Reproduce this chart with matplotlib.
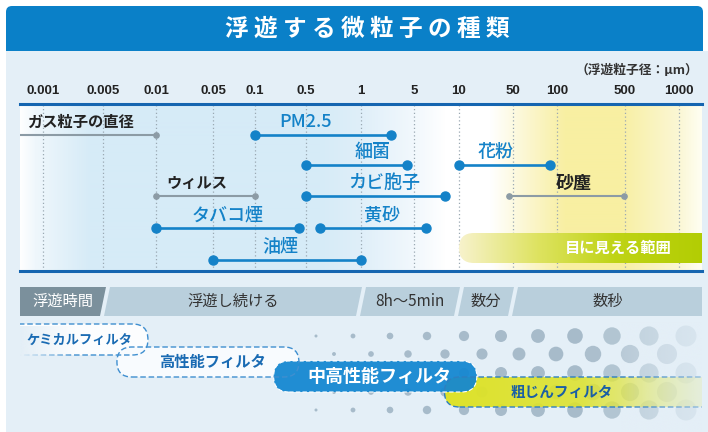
import numpy as np
import matplotlib
matplotlib.use('Agg')
import matplotlib.pyplot as plt
from matplotlib.patches import FancyBboxPatch, Polygon, Circle, Rectangle
from matplotlib.transforms import IdentityTransform, blended_transform_factory
from matplotlib.colors import to_rgb

plt.rcParams['font.family'] = ['Noto Sans CJK JP', 'DejaVu Sans']

# ---- data ----
# particle diameter axis (um)
tick_values = [0.001, 0.005, 0.01, 0.05, 0.1, 0.5, 1, 5, 10, 50, 100, 500, 1000]
tick_labels = ['0.001', '0.005', '0.01', '0.05', '0.1', '0.5', '1', '5', '10', '50', '100', '500', '1000']

# size range of each particle type
particles = ['ガス粒子の直径', 'PM2.5', '細菌', '花粉', 'ウィルス', 'カビ胞子', '砂塵', 'タバコ煙', '黄砂', '油煙']
size_min = [0.0003, 0.1, 0.5, 10, 0.01, 0.5, 45, 0.01, 0.6, 0.05]
size_max = [0.01, 2.5, 4, 90, 0.1, 8, 490, 0.4, 6, 1]
row = [0, 0, 1, 1, 2, 2, 2, 3, 3, 4]
group = ['gray', 'blue', 'blue', 'blue', 'gray', 'blue', 'gray', 'blue', 'blue', 'blue']

visible_label = '目に見える範囲'
visible_min = 10

# floating time by particle size
time_header = '浮遊時間'
time_labels = ['浮遊し続ける', '8h〜5min', '数分', '数秒']
time_bounds = [1, 10, 50]

# filters and the particle sizes they catch
filters = ['ケミカルフィルタ', '高性能フィルタ', '中高性能フィルタ', '粗じんフィルタ']
filter_min = [0.0001, 0.006, 0.18, 8]
filter_max = [0.009, 0.4, 17, 10000]

# ---- layout / style ----
W, H = 708, 432
# the printed axis is a hand-spaced log axis: pixel spot of each tick
TICK_PX = [43, 103, 156, 213, 255, 306, 361, 414, 459, 513, 557, 625, 679]
ROW_Y = [135, 165, 196, 228, 260]
VISIBLE_Y = 248
FILTER_Y = [339.5, 362, 376.5, 392]
FILTER_H = [31, 30, 31, 30]
PANEL = '#E4EFF7'
BLUE = '#1482C8'
GRAY = '#8C9BA5'
DARK = '#222222'

LT = np.log10(tick_values)
TP = np.array(TICK_PX, dtype=float)
SL_L = (TP[2] - TP[0]) / (LT[2] - LT[0])
SL_R = (TP[-1] - TP[-3]) / (LT[-1] - LT[-3])


def fwd(x):
    lx = np.log10(np.clip(np.asarray(x, dtype=float), 1e-12, None))
    out = np.interp(lx, LT, TP)
    out = np.where(lx < LT[0], TP[0] + (lx - LT[0]) * SL_L, out)
    out = np.where(lx > LT[-1], TP[-1] + (lx - LT[-1]) * SL_R, out)
    return out


def inv(p):
    p = np.asarray(p, dtype=float)
    lx = np.interp(p, TP, LT)
    lx = np.where(p < TP[0], LT[0] + (p - TP[0]) / SL_L, lx)
    lx = np.where(p > TP[-1], LT[-1] + (p - TP[-1]) / SL_R, lx)
    return 10 ** lx


XMIN, XMAX = float(inv(20)), float(inv(702))

fig = plt.figure(figsize=(W / 100, H / 100), dpi=100)

# background axes in pixel units (top-down)
bg = fig.add_axes([0, 0, 1, 1])
bg.set_xlim(0, W)
bg.set_ylim(H, 0)
bg.axis('off')

bg.add_patch(FancyBboxPatch((6, 6), 697, 60, boxstyle='round,pad=0,rounding_size=6',
                            fc='#0A80C8', ec='none', zorder=1))
bg.add_patch(Rectangle((6, 51), W - 6, H - 51, fc=PANEL, ec='none', zorder=2))
bg.text(367, 29, '浮 遊 す る 微 粒 子 の 種 類', color='white', fontsize=17,
        fontweight='bold', ha='center', va='center', zorder=3)
bg.text(698, 70, '（浮遊粒子径：μm）', color='#333333', fontsize=9.2,
        fontweight='bold', ha='right', va='center', zorder=3)

# chart area gradient
sx = [20, 35, 90, 320, 360, 420, 445, 490, 530, 565, 620, 680, 702]
sc = ['#FFFFFF', '#EFF7FC', '#D6EBF7', '#D6EBF7', '#DFEFF9', '#F4F9FD', '#FFFFFF',
      '#FFFFFF', '#FBF6CC', '#F8EFA2', '#F8EFA2', '#FBF7D6', '#FFFFF4']
sc = np.array([to_rgb(c) for c in sc])
xs = np.arange(20, 702)
grad = np.stack([np.interp(xs, sx, sc[:, k]) for k in range(3)], axis=-1)[None]
bg.imshow(grad, extent=(20, 702, 271, 104), aspect='auto', zorder=3, interpolation='bilinear')

# decorative particle dots
dot_rows = [336, 354, 373, 392, 410]
base = np.array(to_rgb('#A7BBCA'))
pan = np.array(to_rgb(PANEL))
for i, yy in enumerate(dot_rows):
    x0 = 316 if i % 2 == 0 else 334
    for xx in range(x0, 700, 37):
        r = 1.5 + 0.0243 * (xx - 316)
        t = min(max((xx - 580) / 130, 0), 1) * 0.75
        bg.add_patch(Circle((xx, yy), r, fc=base * (1 - t) + pan * t, ec='none', zorder=3))


def pill(axis, x0, x1, yc, h, **kw):
    (a, yy), (b, _) = axis.transData.transform([(x0, yc), (x1, yc)])
    p = FancyBboxPatch((a, yy - h / 2), b - a, h,
                       boxstyle=f'round,pad=0,rounding_size={h / 2}',
                       transform=IdentityTransform(), **kw)
    axis.add_patch(p)
    return p


def hgrad(axis, x0, x1, y0, y1, pos, cols, z, clip=None):
    t = np.linspace(0, 1, 256)
    cols = np.array(cols)
    arr = np.stack([np.interp(t, pos, cols[:, k]) for k in range(4)], axis=-1)[None]
    im = axis.imshow(arr, extent=(x0, x1, y0, y1), transform=IdentityTransform(),
                     aspect='auto', zorder=z, interpolation='bilinear')
    if clip is not None:
        im.set_clip_path(clip)
    im.set_clip_box(axis.bbox)
    return im


# ---- main chart ----
ax = fig.add_axes([20 / W, (H - 271) / H, 682 / W, 167 / H])
ax.set_xscale('function', functions=(fwd, inv))
ax.set_xlim(XMIN, XMAX)
ax.set_ylim(271, 104)
ax.patch.set_alpha(0)
for s in ['left', 'right']:
    ax.spines[s].set_visible(False)
for s in ['top', 'bottom']:
    ax.spines[s].set_color('#1565B0')
    ax.spines[s].set_linewidth(2.2)
ax.xaxis.tick_top()
ax.xaxis.set_minor_locator(matplotlib.ticker.NullLocator())
ax.set_xticks(tick_values, tick_labels, fontweight='bold', family='Liberation Sans',
              fontsize=9.5, color=DARK)
ax.tick_params(axis='x', length=0, pad=5)
ax.set_yticks([])
ax.grid(axis='x', color='#9AA8B2', ls=(0, (1, 2)), lw=0.9)
ax.set_axisbelow(True)

# visible range bar
vb = pill(ax, visible_min, XMAX * 5, VISIBLE_Y, 30, fc='none', ec='none', zorder=2)
p0 = ax.transData.transform((visible_min, VISIBLE_Y))
hgrad(ax, p0[0], 720, H - VISIBLE_Y - 15, H - VISIBLE_Y + 15,
      [0, 0.3, 0.6, 1],
      [(0.97, 0.95, 0.80, 1), (0.87, 0.89, 0.38, 1), (0.75, 0.83, 0.08, 1), (0.69, 0.80, 0.0, 1)],
      z=2, clip=vb)
ax.text(0.877, VISIBLE_Y, visible_label, transform=blended_transform_factory(ax.transAxes, ax.transData),
        color='white', fontsize=11, fontweight='bold', ha='center', va='center', zorder=4)

for name, mn, mx, r, g in zip(particles, size_min, size_max, row, group):
    y = ROW_Y[r]
    if g == 'blue':
        ax.plot([mn, mx], [y, y], color=BLUE, lw=1.9, marker='o', ms=6.5, zorder=3)
    else:
        ax.plot([mn, mx], [y, y], color=GRAY, lw=1.5, marker='o', ms=3.8, zorder=3)
    if r == 0 and g == 'gray':
        ax.text(0.01, y - 13, name, transform=blended_transform_factory(ax.transAxes, ax.transData),
                color=DARK, fontsize=11, fontweight='bold', ha='left', va='center', zorder=4)
    elif g == 'gray':
        ax.text(np.sqrt(mn * mx), y - 13, name, color=DARK, fontsize=11 if len(name) > 2 else 13,
                fontweight='bold', ha='center', va='center', zorder=4)
    else:
        ax.text(np.sqrt(mn * mx), y - 13, name, color=BLUE, fontsize=13,
                fontweight='medium', ha='center', va='center', zorder=4)

# ---- lower panel: floating time and filters ----
ax2 = fig.add_axes([20 / W, 0, 682 / W, 157 / H])
ax2.set_xscale('function', functions=(fwd, inv))
ax2.set_xlim(XMIN, XMAX)
ax2.set_ylim(H, 275)
ax2.axis('off')

left, right = 20, 702
edges = [left, left + 85] + [ax2.transData.transform((v, 300))[0] for v in time_bounds] + [right]
yt, yb = H - 287, H - 316
s, gap = 6, 4
for i in range(len(edges) - 1):
    a, b = edges[i], edges[i + 1]
    bl = a if i == 0 else a + gap / 2 - s / 2
    tl = a if i == 0 else a + gap / 2 + s / 2
    br = b if i == len(edges) - 2 else b - gap / 2 - s / 2
    tr = b if i == len(edges) - 2 else b - gap / 2 + s / 2
    fc = '#7B909C' if i == 0 else '#B9CFDC'
    ax2.add_patch(Polygon([(bl, yb), (br, yb), (tr, yt), (tl, yt)], closed=True,
                          transform=IdentityTransform(), fc=fc, ec='none', zorder=1))
    label = time_header if i == 0 else time_labels[i - 1]
    ax2.text((a + b) / 2, (yt + yb) / 2, label, transform=IdentityTransform(),
             color='white' if i == 0 else '#333333', fontsize=11,
             ha='center', va='center', zorder=2)

edge_blue = '#3F8FD0'
dash = (0, (4, 2))
# coarse filter (yellow, fading to the right)
cb = pill(ax2, filter_min[3], filter_max[3], FILTER_Y[3], FILTER_H[3], fc='none', ec='none', zorder=2)
c0 = ax2.transData.transform((filter_min[3], FILTER_Y[3]))
hgrad(ax2, c0[0], 720, c0[1] - 15, c0[1] + 15, [0, 0.5, 1],
      [(0.87, 0.89, 0.16, 1.0), (0.87, 0.89, 0.18, 0.88), (0.90, 0.92, 0.50, 0.4)], z=2, clip=cb)

# chemical filter
chem = pill(ax2, filter_min[0], filter_max[0], FILTER_Y[0], FILTER_H[0],
            fc=(1, 1, 1, 0.9), ec='none', zorder=3)
# high performance filter fill
hepa = pill(ax2, filter_min[1], filter_max[1], FILTER_Y[1], FILTER_H[1],
            fc='#F8FBFE', ec='none', zorder=3.5)
# medium-high filter
pill(ax2, filter_min[2], filter_max[2], FILTER_Y[2], FILTER_H[2],
     fc=(0.08, 0.53, 0.82, 0.94), ec='white', ls=dash, lw=0.8, zorder=4)
# dashed outlines on top
pill(ax2, filter_min[0], filter_max[0], FILTER_Y[0], FILTER_H[0],
     fc='none', ec=edge_blue, ls=dash, lw=1.0, zorder=4.5)
pill(ax2, filter_min[1], filter_max[1], FILTER_Y[1], FILTER_H[1],
     fc='none', ec=edge_blue, ls=dash, lw=1.0, zorder=4.5)
pill(ax2, filter_min[3], filter_max[3], FILTER_Y[3], FILTER_H[3],
     fc='none', ec='#2E7FC0', ls=dash, lw=1.0, zorder=4.5)
# left fade of chemical filter
pr = np.array(to_rgb(PANEL))
hgrad(ax2, 20, 75, H - 326, H - 356, [0, 1],
      [(*pr, 1.0), (*pr, 0.0)], z=4.8)
# right fade
hgrad(ax2, 620, 702, H - 322, H - 432, [0, 1],
      [(*pr, 0.0), (*pr, 0.55)], z=4.8)

for k, name in enumerate(filters):
    y = FILTER_Y[k]
    if k == 0:
        ax2.text(0.01, y, name, transform=blended_transform_factory(ax2.transAxes, ax2.transData),
                 color='#1A6BB3', fontsize=9.5, fontweight='bold', ha='left', va='center', zorder=6)
    elif k == 3:
        xc = np.sqrt(filter_min[k] * XMAX)
        ax2.text(xc, y, name, color='#1A5FA5', fontsize=10.5, fontweight='bold',
                 ha='center', va='center', zorder=6)
    else:
        xc = np.sqrt(filter_min[k] * filter_max[k])
        ax2.text(xc, y, name, color='white' if k == 2 else '#1A6BB3',
                 fontsize=13 if k == 2 else 11, fontweight='bold',
                 ha='center', va='center', zorder=6)

fig.savefig('out.png', dpi=100)
